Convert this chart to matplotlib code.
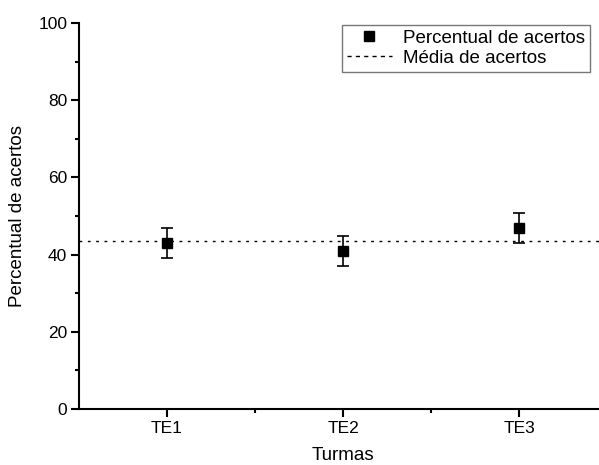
import numpy as np
import matplotlib.pyplot as plt
from matplotlib.ticker import MultipleLocator
from matplotlib.lines import Line2D

plt.rcParams['font.family'] = ['Liberation Sans', 'DejaVu Sans']

turmas = ['TE1', 'TE2', 'TE3']
percentual = [43.0, 41.0, 47.0]
erro = [3.9, 3.9, 3.9]
media = 43.6

fig = plt.figure(figsize=(5.99, 4.65), dpi=100)
ax = fig.add_axes([0.1319, 0.1204, 0.8815, 0.830])

x = np.arange(1, len(turmas) + 1)
ax.errorbar(x, percentual, yerr=erro, fmt='s', color='black', ms=7,
            elinewidth=1.2, capsize=4, capthick=1.2, zorder=3)
ax.axhline(media, color='black', lw=1, ls=(0, (2, 4)))

ax.set_xlim(0.5, 3.5)
ax.set_ylim(0, 100)
ax.set_xticks(x)
ax.set_xticklabels(turmas)
ax.set_xticks([1.5, 2.5], minor=True)
ax.yaxis.set_major_locator(MultipleLocator(20))
ax.yaxis.set_minor_locator(MultipleLocator(10))

for s in ['top', 'right']:
    ax.spines[s].set_visible(False)
for s in ['left', 'bottom']:
    ax.spines[s].set_linewidth(1.5)

ax.tick_params(axis='both', which='major', direction='out', length=5.5, width=1.5,
               labelsize=12.5, pad=3)
ax.tick_params(axis='both', which='minor', direction='out', length=3, width=1.5)

ax.set_xlabel('Turmas', fontsize=13.5, labelpad=8)
ax.set_ylabel('Percentual de acertos', fontsize=13.5, labelpad=9)

# legenda no canto superior direito
handles = [Line2D([], [], marker='s', color='black', ls='none', ms=7),
           Line2D([], [], color='black', lw=1, ls=(0, (3, 3)))]
leg = fig.legend(handles, ['Percentual de acertos', 'Média de acertos'],
                 loc='upper left', bbox_to_anchor=(0.571, 0.946), fontsize=13.5,
                 frameon=True, fancybox=False, handlelength=2.4, handletextpad=0.6,
                 borderpad=0.25, labelspacing=0.15, borderaxespad=0)
leg.get_frame().set_edgecolor('#555555')
leg.get_frame().set_linewidth(1)

fig.savefig('out.png', dpi=100)
